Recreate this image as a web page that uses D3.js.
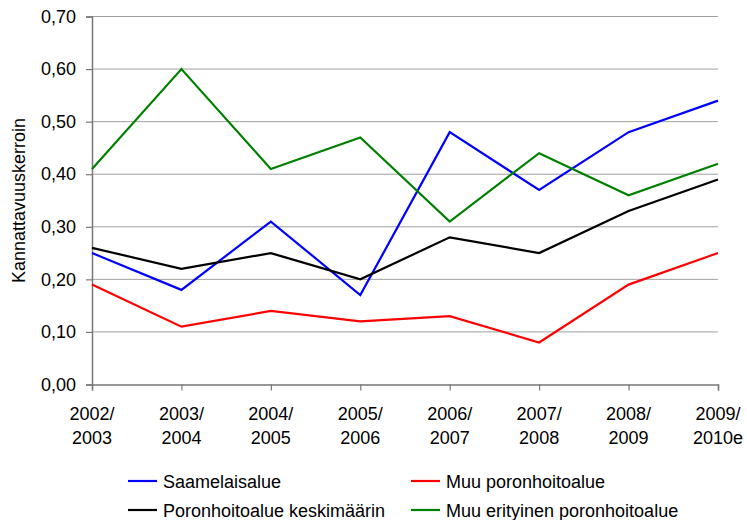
<!DOCTYPE html>
<html>
<head>
<meta charset="utf-8">
<script src="https://cdn.jsdelivr.net/npm/d3@7"></script>
<style>
  body { margin: 0; background: #fff; }
  text { font-family: "Liberation Sans", Arial, sans-serif; fill: #000; }
</style>
</head>
<body>
<script>
const width = 747;
const height = 520;

const periods = [
  ['2002/', '2003'], ['2003/', '2004'], ['2004/', '2005'], ['2005/', '2006'],
  ['2006/', '2007'], ['2007/', '2008'], ['2008/', '2009'], ['2009/', '2010e']
];
const saamelaisalue = [0.25, 0.18, 0.31, 0.17, 0.48, 0.37, 0.48, 0.54];
const muuPoronhoitoalue = [0.19, 0.11, 0.14, 0.12, 0.13, 0.08, 0.19, 0.25];
const keskimaarin = [0.26, 0.22, 0.25, 0.20, 0.28, 0.25, 0.33, 0.39];
const muuErityinen = [0.41, 0.60, 0.41, 0.47, 0.31, 0.44, 0.36, 0.42];
const yTicks = [0, 0.1, 0.2, 0.3, 0.4, 0.5, 0.6, 0.7];

const series = [
  { name: 'Saamelaisalue', values: saamelaisalue, color: '#0000ff' },
  { name: 'Muu poronhoitoalue', values: muuPoronhoitoalue, color: '#ff0000' },
  { name: 'Poronhoitoalue keskimäärin', values: keskimaarin, color: '#000000' },
  { name: 'Muu erityinen poronhoitoalue', values: muuErityinen, color: '#008000' }
];

const svg = d3.select('body').append('svg')
  .attr('width', width)
  .attr('height', height);

const x = d3.scalePoint()
  .domain(d3.range(periods.length))
  .range([92, 718]);

const y = d3.scaleLinear()
  .domain([0, 0.7])
  .range([384.5, 16.5]);

// grid
svg.append('g')
  .selectAll('line')
  .data(yTicks.filter(d => d > 0))
  .enter().append('line')
    .attr('x1', 92).attr('x2', 718)
    .attr('y1', d => y(d)).attr('y2', d => y(d))
    .style('stroke', '#a0a0a0')
    .style('stroke-width', 1);

// y axis
const yAxis = svg.append('g')
  .attr('transform', 'translate(92,0)')
  .call(d3.axisLeft(y).tickValues(yTicks).tickSize(6).tickPadding(10)
    .tickFormat(d => d3.format('.2f')(d).replace('.', ',')));

// x axis
const xAxis = svg.append('g')
  .attr('transform', 'translate(0,384.5)')
  .call(d3.axisBottom(x).tickSize(6).tickFormat(''));

[yAxis, xAxis].forEach(a => {
  a.select('.domain').style('stroke', '#777').style('stroke-width', 1.5);
  a.selectAll('.tick line').style('stroke', '#777').style('stroke-width', 1.2);
});
yAxis.selectAll('text')
  .style('font-size', '18px')
  .style('font-family', '"Liberation Sans", Arial, sans-serif');

// two-line x labels
const xl = svg.append('g')
  .selectAll('text')
  .data(periods)
  .enter().append('text')
    .attr('x', (d, i) => x(i))
    .attr('text-anchor', 'middle')
    .style('font-size', '18px');
xl.append('tspan').attr('x', (d, i) => x(i)).attr('y', 419.5).text(d => d[0]);
xl.append('tspan').attr('x', (d, i) => x(i)).attr('y', 443.5).text(d => d[1]);

// y title
svg.append('text')
  .attr('transform', 'translate(25,200.5) rotate(-90)')
  .attr('text-anchor', 'middle')
  .style('font-size', '18px')
  .text('Kannattavuuskerroin');

// lines
const line = d3.line()
  .x((d, i) => x(i))
  .y(d => y(d));

svg.append('g')
  .selectAll('path')
  .data(series)
  .enter().append('path')
    .attr('d', d => line(d.values))
    .style('fill', 'none')
    .style('stroke', d => d.color)
    .style('stroke-width', 2.2)
    .style('stroke-linejoin', 'miter');

// legend
const legendPos = [[128, 481], [411, 481], [128, 510], [411, 510]];
const legend = svg.append('g')
  .selectAll('g')
  .data(series)
  .enter().append('g')
    .attr('transform', (d, i) => `translate(${legendPos[i][0]},${legendPos[i][1]})`);
legend.append('line')
  .attr('x1', 0).attr('x2', 29)
  .style('stroke', d => d.color)
  .style('stroke-width', 2.2);
legend.append('text')
  .attr('x', 35)
  .attr('y', 6.5)
  .style('font-size', '18px')
  .text(d => d.name);
</script>
</body>
</html>
